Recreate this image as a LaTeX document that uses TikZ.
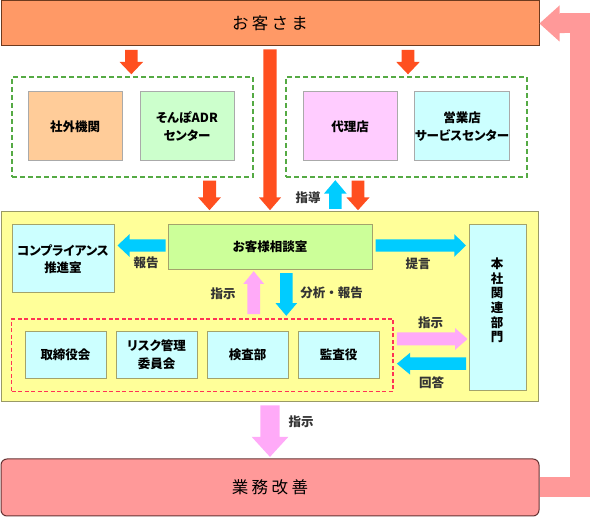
\documentclass[tikz,border=0pt]{standalone}
\usepackage{fontspec}
\setmainfont{Noto Sans CJK JP}
\newfontfamily\jpp{Noto Sans CJK JP}[RawFeature=+palt]
\usetikzlibrary{calc}
\definecolor{topfill}{HTML}{FF9966}
\definecolor{topdraw}{HTML}{6E3A1E}
\definecolor{botfill}{HTML}{FF9999}
\definecolor{botdraw}{HTML}{663333}
\definecolor{yelfill}{HTML}{FFFF99}
\definecolor{yeldraw}{HTML}{999966}
\definecolor{olivebd}{HTML}{A3A36B}
\definecolor{graybd}{HTML}{AAAAAA}
\definecolor{greendash}{HTML}{55AA44}
\definecolor{reddash}{HTML}{FF3355}
\definecolor{orarrow}{HTML}{FF4F1F}
\definecolor{cyarrow}{HTML}{00CCFF}
\definecolor{pkarrow}{HTML}{FFAAF8}
\definecolor{bigpink}{HTML}{FF9999}
\definecolor{c1}{HTML}{FFCC99}
\definecolor{c2}{HTML}{CCFFCC}
\definecolor{c3}{HTML}{FFCCFF}
\definecolor{c4}{HTML}{CCFFFF}
\definecolor{c5}{HTML}{CCFF99}
\definecolor{labtext}{HTML}{333333}
% block arrow: from, to, shaft half width, head half width, head length, colour
\newcommand\blockarrow[6]{%
  \path (#1) coordinate (ba) (#2) coordinate (bb);
  \path ($(bb)!#5!(ba)$) coordinate (bh);
  \fill[#6] ($(ba)!#3!90:(bb)$) -- ($(bh)!#3!-90:(ba)$) -- ($(bh)!#4!-90:(ba)$) -- (bb)
    -- ($(bh)!#4!90:(ba)$) -- ($(bh)!#3!90:(ba)$) -- ($(ba)!#3!-90:(bb)$) -- cycle;
}
\tikzset{
  bx/.style={rectangle, draw=graybd, line width=1pt, inner sep=0pt, align=center,
    font=\jpp\fontsize{12.5}{17.6}\selectfont\bfseries, text=black},
  ibx/.style={bx, draw=olivebd},
  grp/.style={rectangle, draw=greendash, line width=1.8pt, dash pattern=on 5pt off 3pt, inner sep=0pt},
  rgrp/.style={rectangle, draw=reddash, line width=1.8pt, dash pattern=on 4pt off 2.5pt, inner sep=0pt},
  lab/.style={font=\fontsize{12.5}{14.7}\selectfont\bfseries, text=labtext, inner sep=0pt, align=center},
  title/.style={font=\fontsize{16.5}{16.5}\selectfont, text=black, inner sep=0pt}
}
\begin{document}
\begin{tikzpicture}[x=1pt,y=-1pt]
\useasboundingbox (0,0) rectangle (590,518);

% main bars
\node[rectangle, fill=topfill, draw=topdraw, line width=1pt, minimum width=538pt, minimum height=45pt] (top) at (270,23.5) {};
\node[title] at (top.center) {お\hspace{3.2pt}客\hspace{3.2pt}さ\hspace{3.2pt}ま};

\node[rectangle, fill=yelfill, draw=yeldraw, line width=1pt, minimum width=537pt, minimum height=190pt] (yel) at (270,307) {};

\node[rectangle, rounded corners=6pt, fill=botfill, draw=botdraw, line width=1pt, minimum width=538pt, minimum height=57pt] (bot) at (270,487.5) {};
\node[title] at (bot.center) {業\hspace{3.5pt}務\hspace{3.5pt}改\hspace{3.5pt}善};

% upper groups
\node[grp, minimum width=241pt, minimum height=100pt] (g1) at (132.5,127) {};
\node[grp, minimum width=241pt, minimum height=100pt] (g2) at (406.5,127) {};
\node[bx, fill=c1, minimum width=94pt, minimum height=69pt] (b1) at (75,126.5) {社外機関};
\node[bx, fill=c2, minimum width=94pt, minimum height=69pt] (b2) at (187,126.5) {そんぽADR\\センター};
\node[bx, fill=c3, minimum width=94pt, minimum height=69pt] (b3) at (350,126.5) {代理店};
\node[bx, fill=c4, minimum width=94pt, minimum height=69pt] (b4) at (462,126.5) {営業店\\サービスセンター};

% inside yellow
\node[ibx, fill=c4, minimum width=102pt, minimum height=68pt] (cp) at (63,259) {コンプライアンス\\推進室};
\node[ibx, fill=c5, minimum width=204pt, minimum height=44.5pt] (cs) at (270,247.25) {お客様相談室};
\node[ibx, fill=c4, minimum width=57pt, minimum height=165.5pt] (hq) at (497.5,307.75) {};
\node[lab, text=black] (hqt) at (497,300.5) {本\\社\\関\\連\\部\\門};

\node[rgrp, minimum width=381.5pt, minimum height=72.5pt] (rd) at (202.25,355.25) {};
\node[ibx, fill=c4, minimum width=81pt, minimum height=47pt] (m1) at (65.5,355) {取締役会};
\node[ibx, fill=c4, minimum width=81pt, minimum height=47pt] (m2) at (156.5,355) {リスク管理\\委員会};
\node[ibx, fill=c4, minimum width=81pt, minimum height=47pt] (m3) at (247.5,355) {検査部};
\node[ibx, fill=c4, minimum width=81pt, minimum height=47pt] (m4) at (338.5,355) {監査役};

% helper coordinates for arrow positions
\coordinate (xa1) at (131.3,0);
\coordinate (xa2) at (408,0);
\coordinate (xa4) at (209.5,0);
\coordinate (xa5) at (358,0);
\coordinate (xc1) at (335.3,0);
\coordinate (xp1) at (253.7,0);
\coordinate (xc4) at (286.3,0);
\coordinate (ya) at (0,180.7);
\coordinate (yp2) at (0,339);
\coordinate (yc5) at (0,363.7);

% orange arrows
\blockarrow{$(top.south -| xa1)+(0,3.3)$}{$(g1.north -| xa1)+(0,-1.8)$}{6.3pt}{11.7pt}{12.3pt}{orarrow}
\blockarrow{$(top.south -| xa2)+(0,3.3)$}{$(g2.north -| xa2)+(0,-1.8)$}{6.3pt}{11.7pt}{12.3pt}{orarrow}
\blockarrow{$(top.south)+(0,3)$}{$(yel.north)+(0,-1.3)$}{6.7pt}{11pt}{12.7pt}{orarrow}
\blockarrow{xa4 |- ya}{$(yel.north -| xa4)+(0,-1.3)$}{6.5pt}{11.3pt}{12.7pt}{orarrow}
\blockarrow{xa5 |- ya}{$(yel.north -| xa5)+(0,-1.3)$}{6.3pt}{11.5pt}{12.7pt}{orarrow}

% cyan arrows
\blockarrow{$(yel.north -| xc1)+(0,-2.5)$}{$(g2.south -| xc1)+(0,2.3)$}{6.3pt}{11.3pt}{13.4pt}{cyarrow}
\blockarrow{$(cs.west)+(-2,-1.75)$}{$(cp.east |- cs.west)+(3,-1.75)$}{6.2pt}{11.3pt}{12pt}{cyarrow}
\blockarrow{$(cs.east)+(3,-1.75)$}{$(hq.west |- cs.east)+(-2.5,-1.75)$}{6.2pt}{11.3pt}{11.7pt}{cyarrow}
\blockarrow{$(cs.south -| xc4)+(0,3.2)$}{$(rd.north -| xc4)+(0,-2.3)$}{6.3pt}{10.8pt}{12.7pt}{cyarrow}
\blockarrow{$(hq.west |- yc5)+(-2.5,0)$}{$(rd.east |- yc5)+(3,0)$}{6.3pt}{11pt}{13.3pt}{cyarrow}

% pink arrows
\blockarrow{$(rd.north -| xp1)+(0,-4)$}{$(cs.south -| xp1)+(0,1.2)$}{6.3pt}{10.3pt}{12.6pt}{pkarrow}
\blockarrow{$(rd.east |- yp2)+(3,0)$}{$(hq.west |- yp2)+(-1,0)$}{6.5pt}{10.8pt}{12.3pt}{pkarrow}
\blockarrow{$(yel.south)+(0,3)$}{$(bot.north)+(0,-1.6)$}{9.7pt}{18.3pt}{20pt}{pkarrow}

% big return arrow
\coordinate (rc) at (580,0);
\draw[bigpink, line width=20pt, line join=miter] (bot.east) -- (bot.east -| rc) -- (top.east -| rc) -- ($(top.east)+(20,0)$);
\blockarrow{$(top.east)+(25,0)$}{top.east}{9.7pt}{18pt}{20pt}{bigpink}

% labels
\node[lab] at (308,198) {指導};
\node[lab] at (146,263) {報告};
\node[lab] at (418,263.3) {提言};
\node[lab] at (223,293.3) {指示};
\node[lab] at (331.7,293) {分析・報告};
\node[lab] at (430.7,322.7) {指示};
\node[lab] at (431.7,382.7) {回答};
\node[lab] at (301,421.7) {指示};
\end{tikzpicture}
\end{document}
